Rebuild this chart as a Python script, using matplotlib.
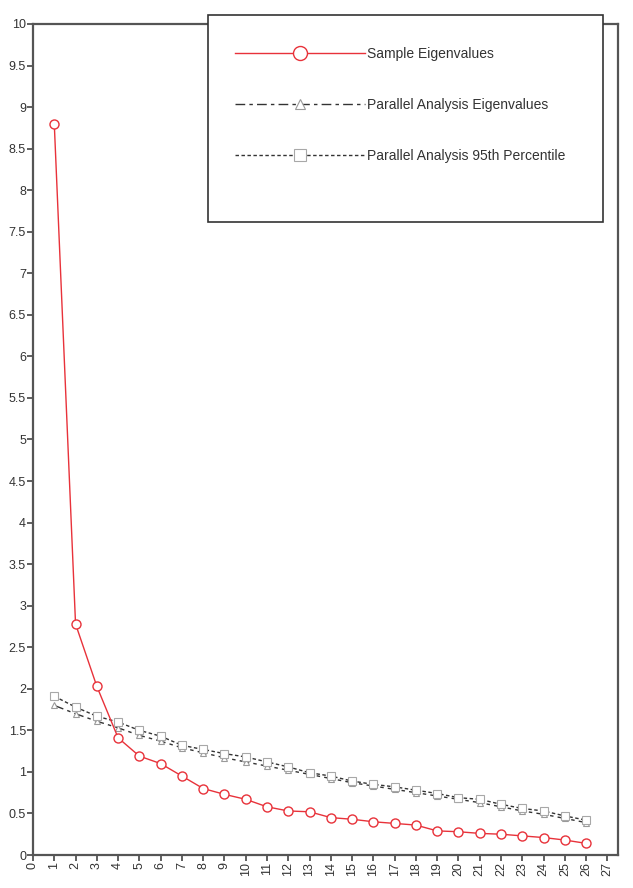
import matplotlib
matplotlib.use("Agg")
from matplotlib import pyplot as plt
from matplotlib.patches import Rectangle
import numpy as np

plt.rcParams["font.family"] = ["Liberation Sans", "DejaVu Sans"]

factors = list(range(1, 27))
sample_eig = [8.80, 2.78, 2.03, 1.41, 1.19, 1.10, 0.95, 0.80, 0.73, 0.67,
              0.58, 0.53, 0.52, 0.45, 0.43, 0.40, 0.38, 0.36, 0.29, 0.28,
              0.26, 0.25, 0.23, 0.21, 0.18, 0.14]
parallel_eig = [1.80, 1.70, 1.61, 1.53, 1.44, 1.37, 1.29, 1.23, 1.17, 1.12,
                1.07, 1.02, 0.97, 0.92, 0.87, 0.83, 0.79, 0.75, 0.71, 0.67,
                0.63, 0.58, 0.53, 0.49, 0.44, 0.39]
parallel_95 = [1.91, 1.78, 1.67, 1.60, 1.50, 1.43, 1.32, 1.27, 1.22, 1.18,
               1.12, 1.06, 0.99, 0.95, 0.89, 0.85, 0.82, 0.78, 0.74, 0.69,
               0.67, 0.61, 0.56, 0.53, 0.47, 0.42]
labels = ["Sample Eigenvalues", "Parallel Analysis Eigenvalues",
          "Parallel Analysis 95th Percentile"]
x_ticks = list(range(0, 28))
y_ticks = [0, 0.5, 1, 1.5, 2, 2.5, 3, 3.5, 4, 4.5, 5, 5.5, 6, 6.5, 7, 7.5,
           8, 8.5, 9, 9.5, 10]

W, H = 633, 888
fig = plt.figure(figsize=(W / 100, H / 100), dpi=100)
ax = fig.add_axes([33 / W, 1 - 855 / H, (618 - 33) / W, (855 - 24) / H])

l1, = ax.plot(factors, sample_eig, color="#e8323a", lw=1.0, marker="o",
              ms=6.5, mfc="white", mec="#e8323a", mew=1.0, zorder=4)
l2, = ax.plot(factors, parallel_eig, color="#333333", lw=1.0,
              dashes=[7, 3, 2.5, 3], marker="^", ms=4.5, mfc="white",
              mec="#9a9a9a", mew=0.8, zorder=3)
l3, = ax.plot(factors, parallel_95, color="#333333", lw=1.0,
              dashes=[2.5, 1.8], marker="s", ms=6, mfc="white",
              mec="#a8a8a8", mew=0.8, zorder=3)

ax.set_xlim(0, 27.5)
ax.set_ylim(0, 10)
ax.set_xticks(x_ticks)
ax.set_xticklabels([str(t) for t in x_ticks], rotation=90)
ax.set_yticks(y_ticks)
ax.set_yticklabels(["%g" % t for t in y_ticks])
ax.tick_params(axis="both", direction="out", length=4, width=1.2,
               color="#444444", labelsize=9, labelcolor="#333333", pad=1)

for s in ax.spines.values():
    s.set_color("#555555")
    s.set_linewidth(1.6)

# legend box drawn over the top spine
box = Rectangle((208 / W, 1 - 222 / H), (603 - 208) / W, (222 - 15) / H,
                transform=fig.transFigure, facecolor="white",
                edgecolor="#333333", lw=1.2, zorder=10)
fig.patches.append(box)

leg = fig.legend([l1, l2, l3], labels, loc="upper left",
                 bbox_to_anchor=(235 / W, 1 - 47 / H), frameon=False,
                 fontsize=10, handlelength=9.35, handletextpad=0.15,
                 labelspacing=2.67, borderpad=0, borderaxespad=0,
                 markerscale=1.55, numpoints=1)
leg.set_zorder(11)
for t in leg.get_texts():
    t.set_color("#333333")

fig.savefig("out.png", dpi=100)
